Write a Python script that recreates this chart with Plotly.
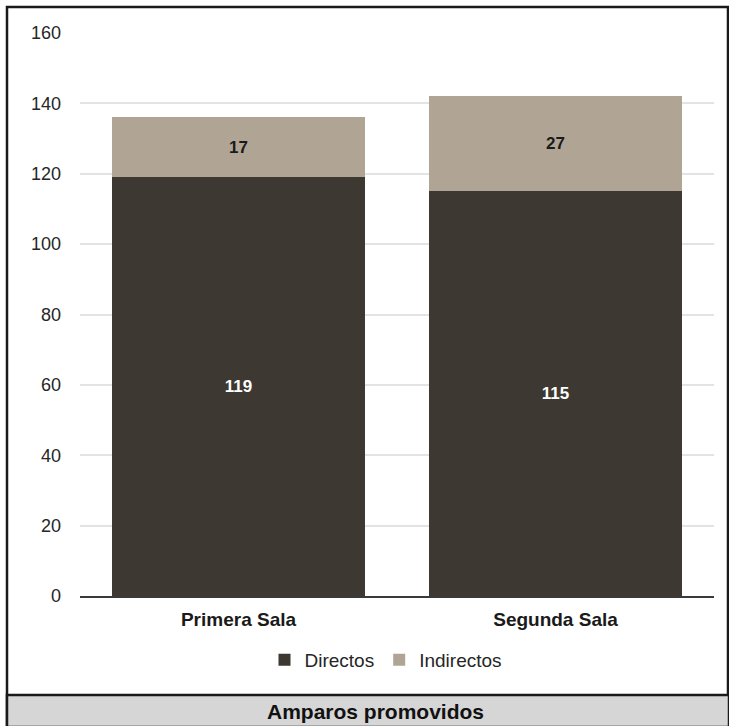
import plotly.graph_objects as go

categories = ["Primera Sala", "Segunda Sala"]
directos = [119, 115]
indirectos = [17, 27]
series_names = ["Directos", "Indirectos"]
title_text = "Amparos promovidos"

W, H = 729, 726
L, R, T, B = 80, 15, 33, 130
pw, ph = W - L - R, H - T - B

def px_x(x):
    return (x - L) / pw

def px_y(y):
    return (H - B - y) / ph

FONT = "Liberation Sans, Arial, sans-serif"

fig = go.Figure()
fig.add_trace(go.Bar(
    x=categories, y=directos, name=series_names[0],
    marker=dict(color="#3d3932", line=dict(width=0)),
    text=[f"<b>{v}</b>" for v in directos], textposition="inside",
    insidetextanchor="middle", textangle=0,
    textfont=dict(color="white", size=17, family=FONT),
))
fig.add_trace(go.Bar(
    x=categories, y=indirectos, name=series_names[1],
    marker=dict(color="#b0a595", line=dict(width=0)),
    text=[f"<b>{v}</b>" for v in indirectos], textposition="inside",
    insidetextanchor="middle", textangle=0,
    textfont=dict(color="#1a1a1a", size=17, family=FONT),
))

fig.update_layout(
    width=W, height=H, barmode="stack", bargap=0.2,
    margin=dict(l=L, r=R, t=T, b=B, pad=0),
    paper_bgcolor="white", plot_bgcolor="white",
    font=dict(family=FONT, color="#262626", size=18),
    showlegend=True,
    legend=dict(orientation="h", x=px_x(386), xanchor="center", y=px_y(660), yanchor="middle",
                font=dict(size=19, color="#262626"), traceorder="normal",
                itemwidth=30, bgcolor="rgba(0,0,0,0)"),
    xaxis=dict(tickvals=categories, ticktext=[f"<b>{c}</b>" for c in categories],
               tickfont=dict(size=19, color="#1a1a1a"), showgrid=False,
               showline=True, linecolor="#3a3a3a", linewidth=2,
               ticks="", ticklabelstandoff=5),
    yaxis=dict(range=[0, 160], dtick=20, showgrid=True, gridcolor="#e3e3e3", gridwidth=1.5,
               zeroline=False, showline=False, ticks="", ticklabelstandoff=18,
               tickfont=dict(size=18, color="#262626")),
    shapes=[
        dict(type="rect", xref="paper", yref="paper",
             x0=px_x(7), x1=px_x(728), y0=px_y(725), y1=px_y(7),
             line=dict(color="#1a1a1a", width=2.5), fillcolor="rgba(0,0,0,0)", layer="below"),
        dict(type="rect", xref="paper", yref="paper",
             x0=px_x(7), x1=px_x(729), y0=px_y(727), y1=px_y(695),
             line=dict(color="#1a1a1a", width=2.5), fillcolor="#d6d6d6", layer="below"),
    ],
    annotations=[
        dict(text=f"<b>{title_text}</b>", xref="paper", yref="paper",
             x=px_x(375), y=px_y(712), xanchor="center", yanchor="middle",
             showarrow=False, font=dict(size=21, color="#111111")),
    ],
)

fig.write_html("out.html", config={"displayModeBar": False},
               post_script="document.body.style.margin='0';document.body.style.padding='0';document.body.style.overflow='hidden';")
